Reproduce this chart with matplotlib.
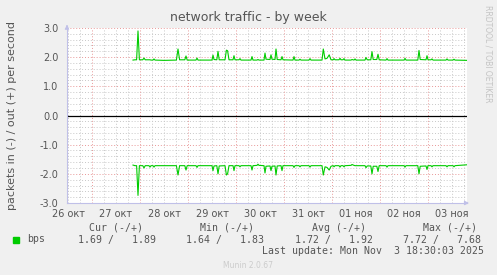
import numpy as np
import matplotlib
matplotlib.use("Agg")
import matplotlib.pyplot as plt

# ---- data (hours since 26 Oct 00:00) ----
hours = [44.5, 45.5, 46.3, 47.0, 47.7, 49.4, 50.0, 50.6, 52.5, 53.0, 53.5, 54.5, 55.0, 55.5,
         60.0, 66.2, 67.0, 67.8, 70.4, 71.0, 71.6, 76.0, 76.5, 77.0, 84.0, 84.5, 85.0, 86.4,
         87.0, 87.6, 90.5, 91.2, 91.8, 92.5, 94.5, 95.0, 95.5, 97.5, 98.0, 98.5, 103.5, 104.0,
         104.5, 106.5, 107.0, 107.5, 110.0, 110.5, 111.0, 113.0, 113.5, 114.0, 115.5, 116.0,
         116.6, 118.5, 119.0, 119.5, 124.5, 125.0, 125.5, 127.5, 128.0, 128.5, 132.5, 133.0,
         133.5, 139.0, 139.65, 140.5, 141.5, 142.6, 143.5, 144.6, 145.0, 145.5, 147.5, 148.0,
         148.5, 149.5, 150.0, 150.5, 153.5, 154.0, 155.0, 155.5, 156.0, 160.5, 161.0, 161.6,
         163.4, 164.0, 164.6, 166.4, 167.0, 167.6, 171.0, 171.5, 172.0, 180.0, 180.5, 181.0,
         186.9, 187.5, 188.1, 191.0, 191.5, 192.0, 193.5, 194.0, 194.5, 201.0, 201.5, 202.0,
         204.5, 205.0, 205.5, 211.5]
out_pps = [1.90, 1.91, 1.91, 2.90, 1.91, 1.91, 1.97, 1.91, 1.91, 1.91, 1.90, 1.90, 1.94, 1.90,
           1.89, 1.90, 2.28, 1.91, 1.91, 2.04, 1.90, 1.90, 1.97, 1.90, 1.90, 2.07, 1.92, 1.91,
           2.20, 1.91, 1.91, 2.24, 2.22, 1.91, 1.91, 2.05, 1.91, 1.91, 1.95, 1.90, 1.90, 2.02,
           1.90, 1.90, 1.92, 1.90, 1.90, 2.14, 1.93, 1.92, 2.08, 1.93, 1.92, 2.28,
           1.92, 1.91, 2.02, 1.91, 1.90, 2.02, 1.90, 1.90, 1.93, 1.90, 1.90, 1.95,
           1.90, 1.90, 2.28, 1.94, 1.96, 2.08, 1.91, 1.91, 1.95, 1.91, 1.91, 1.96,
           1.91, 1.91, 1.95, 1.90, 1.90, 1.92, 1.90, 1.94, 1.90, 1.90, 1.99, 1.91,
           1.91, 2.19, 1.92, 1.92, 2.10, 1.91, 1.90, 1.95, 1.90, 1.90, 1.96, 1.90,
           1.90, 2.23, 1.92, 1.91, 2.05, 1.91, 1.91, 1.94, 1.90, 1.90, 1.94, 1.90,
           1.90, 1.93, 1.90, 1.89]
in_pps = [1.70, 1.72, 1.72, 2.74, 1.72, 1.72, 1.80, 1.72, 1.72, 1.77, 1.72, 1.72, 1.77, 1.72,
          1.72, 1.72, 2.04, 1.72, 1.72, 1.87, 1.72, 1.72, 1.78, 1.72, 1.72, 1.89, 1.73, 1.72,
          2.00, 1.73, 1.72, 2.04, 2.00, 1.72, 1.72, 1.89, 1.72, 1.72, 1.76, 1.72, 1.72, 1.87,
          1.72, 1.71, 1.67, 1.71, 1.72, 1.97, 1.74, 1.73, 1.89, 1.74, 1.73, 2.04,
          1.73, 1.72, 1.89, 1.72, 1.72, 1.78, 1.72, 1.72, 1.76, 1.72, 1.72, 1.77,
          1.72, 1.72, 2.04, 1.76, 1.78, 1.87, 1.74, 1.72, 1.76, 1.72, 1.72, 1.77,
          1.72, 1.72, 1.76, 1.72, 1.71, 1.68, 1.71, 1.72, 1.72, 1.72, 1.79, 1.73,
          1.73, 2.00, 1.74, 1.74, 1.92, 1.72, 1.72, 1.77, 1.72, 1.72, 1.77, 1.72,
          1.72, 2.00, 1.74, 1.73, 1.85, 1.72, 1.72, 1.76, 1.72, 1.72, 1.76, 1.72,
          1.72, 1.76, 1.72, 1.69]
day_labels = ["26 окт", "27 окт", "28 окт", "29 окт", "30 окт", "31 окт",
              "01 ноя", "02 ноя", "03 ноя"]
y_ticks = [-3.0, -2.0, -1.0, 0.0, 1.0, 2.0, 3.0]
legend_name = "bps"
stat_headers = ["Cur (-/+)", "Min (-/+)", "Avg (-/+)", "Max (-/+)"]
stat_values = ["1.69 /   1.89", "1.64 /   1.83", "1.72 /   1.92", "7.72 /   7.68"]
last_update = "Last update: Mon Nov  3 18:30:03 2025"

W, H = 497, 275
TXT = '#555555'
GREEN = '#00cc00'

fig = plt.figure(figsize=(W / 100, H / 100), dpi=100, facecolor='#f0f0f0')
ax = fig.add_axes([67 / W, 72 / H, 400 / W, 175 / H])
ax.set_facecolor('white')
xmin, xmax = 11.5, 211.5
ax.set_xlim(xmin, xmax)
ax.set_ylim(-3.0, 3.0)

dot = (0, (1, 2))
# minor grid
for h in np.arange(12, xmax, 6):
    if h % 24:
        ax.axvline(h, color='#c8c8c8', lw=0.7, ls=dot, zorder=0)
for v in np.arange(-2.8, 3.0, 0.2):
    if abs(v - round(v)) > 0.05:
        ax.axhline(v, color='#c8c8c8', lw=0.7, ls=dot, zorder=0)
# major grid
for h in np.arange(24, xmax, 24):
    ax.axvline(h, color='#e89898', lw=0.7, ls=dot, zorder=1)
for v in y_ticks:
    if v != 0:
        ax.axhline(v, color='#e89898', lw=0.7, ls=dot, zorder=1)
ax.axhline(0, color='black', lw=0.9, zorder=2)

t = np.array(hours)
ax.plot(t, np.array(out_pps), color=GREEN, lw=0.8, zorder=3)
ax.plot(t, -np.array(in_pps), color=GREEN, lw=0.8, zorder=3)

ax.set_yticks(y_ticks)
ax.set_yticklabels([f"{v:.1f}" for v in y_ticks])
ax.set_xticks(np.arange(12, xmax, 24))
ax.set_xticklabels(day_labels)
ax.tick_params(axis='both', length=0, labelsize=7, colors=TXT)
ax.tick_params(axis='y', pad=6)
ax.tick_params(axis='x', pad=4)

for s in ['top', 'right']:
    ax.spines[s].set_visible(False)
for s in ['left', 'bottom']:
    ax.spines[s].set_color('#c0c0e8')
    ax.spines[s].set_linewidth(0.8)
ax.annotate('', xy=(0, 1.035), xytext=(0, 0.99), xycoords='axes fraction',
            arrowprops=dict(arrowstyle='-|>', color='#c0c0e8', lw=0.8,
                            mutation_scale=6), annotation_clip=False)
ax.annotate('', xy=(1.012, 0), xytext=(0.99, 0), xycoords='axes fraction',
            arrowprops=dict(arrowstyle='-|>', color='#c0c0e8', lw=0.8,
                            mutation_scale=6), annotation_clip=False)

ax.set_ylabel("packets in (-) / out (+) per second", fontsize=8, color=TXT)
ax.yaxis.set_label_coords(-50 / 400, 0.5)


def ft(x, y, s, **kw):
    fig.text(x / W, 1 - y / H, s, **kw)


ft(248, 18, "network traffic - by week", fontsize=9, color=TXT, ha='center', va='center')
ft(488, 5, "RRDTOOL / TOBI OETIKER", fontsize=5.5, color='#c4c4c4', ha='center', va='top',
   rotation=270)

mono = dict(family='DejaVu Sans Mono', fontsize=7.1, color=TXT, va='center')
head_x = [89, 200, 312, 423]
val_x = [78, 186, 295, 403]
for hx, hs in zip(head_x, stat_headers):
    ft(hx, 228, hs, ha='left', **mono)
for vx, vs in zip(val_x, stat_values):
    ft(vx, 239.5, vs, ha='left', **mono)
ft(27, 239.5, legend_name, ha='left', **mono)
ft(262, 251, last_update, ha='left', **mono)
fig.patches.append(plt.Rectangle((13 / W, 1 - 242.5 / H), 6 / W, 6 / H,
                                 transform=fig.transFigure, color=GREEN))
ft(248, 265, "Munin 2.0.67", fontsize=5.5, color='#cccccc', ha='center', va='center')

fig.savefig("out.png", dpi=100, facecolor=fig.get_facecolor())
